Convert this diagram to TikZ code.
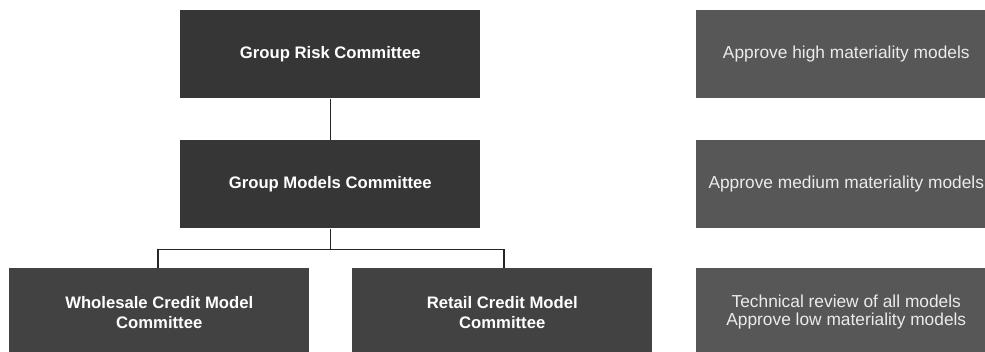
\documentclass[tikz,border=0pt]{standalone}
\usepackage{fontspec}
\setmainfont{Liberation Sans}
\usetikzlibrary{calc}
\begin{document}
\begin{tikzpicture}[x=0.75pt,y=-0.75pt,
  committee/.style={rectangle, minimum width=225pt, minimum height=66pt,
    inner sep=0pt, text=white, font=\fontsize{12.5}{15}\selectfont\bfseries,
    align=center, anchor=north west},
  roleboxA/.style={committee, fill=black!79},
  roleboxB/.style={committee, fill=black!74},
  remit/.style={rectangle, minimum width=225pt, minimum height=66pt,
    inner sep=0pt, text=white!92!black, fill=black!66,
    font=\fontsize{13}{13.5}\selectfont, align=center, anchor=north west},
  link/.style={draw=black!85, line width=0.9pt}]
\useasboundingbox (0,0) rectangle (985,351);

% committee hierarchy
\node[roleboxA] (grc) at (180,10) {Group Risk Committee};
\node[roleboxA] (gmc) at (180,140) {Group Models Committee};
\node[roleboxB] (wcm) at (9,268) {Wholesale Credit Model\\Committee};
\node[roleboxB] (rcm) at (352,268) {Retail Credit Model\\Committee};

% approval remits
\node[remit] (r1) at (696,10) {Approve high materiality models};
\node[remit] (r2) at (696,140) {Approve medium materiality models};
\node[remit] (r3) at (696,268) {Technical review of all models\\Approve low materiality models};

% reporting lines
\coordinate (split) at ($(gmc.south)+(0,21)$);
\coordinate (wtop) at ($(wcm.north west)+(149,0)$);
\coordinate (rtop) at ($(rcm.north west)+(152,0)$);
\draw[link] (grc.south) -- (gmc.north);
\draw[link] (gmc.south) -- (split);
\draw[link] (wtop) |- (split) -| (rtop);
\end{tikzpicture}
\end{document}
